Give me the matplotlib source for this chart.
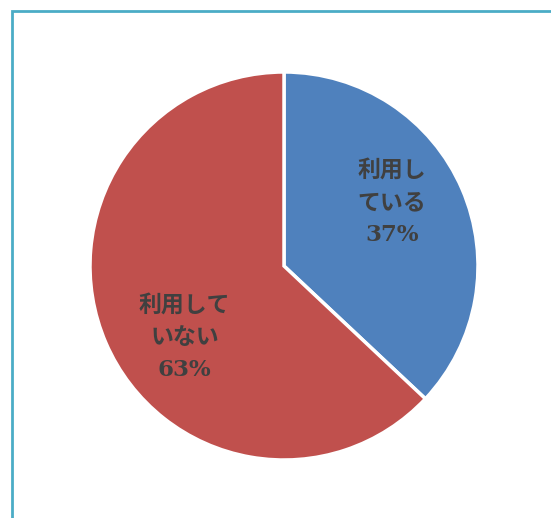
import matplotlib
matplotlib.use("Agg")
import matplotlib.pyplot as plt
from matplotlib.patches import Rectangle

categories = ["利用している", "利用していない"]
values = [37, 63]
label_lines = ["利用し\nている\n37%", "利用して\nいない\n63%"]
colors = ["#4F81BD", "#C0504D"]

W, H = 551, 518
fig = plt.figure(figsize=(W / 100, H / 100), dpi=100)
fig.patch.set_facecolor("white")

# frame border
fig.patches.append(Rectangle((12 / W, -0.1), 1.2, (H - 11) / H + 0.1,
                             transform=fig.transFigure, fill=False,
                             edgecolor="#4BACC6", linewidth=2.0, zorder=0))

cx, cy, r = 284, 266, 194
ax = fig.add_axes([(cx - r) / W, (H - cy - r) / H, 2 * r / W, 2 * r / H])
wedges, _ = ax.pie(values, colors=colors, startangle=90, counterclock=False,
                   radius=1.0,
                   wedgeprops=dict(edgecolor="white", linewidth=2.5))
ax.set_xlim(-1, 1)
ax.set_ylim(-1, 1)
ax.set_aspect("equal")
ax.axis("off")

label_pos = [(0.557, 0.325), (-0.513, -0.371)]
for (x, y), t in zip(label_pos, label_lines):
    ax.text(x, y, t, ha="center", va="center", fontsize=16.5,
            fontweight="bold", color="#404040", linespacing=1.6,
            family=["DejaVu Serif", "Noto Sans CJK JP"])

fig.savefig("out.png", dpi=100)
